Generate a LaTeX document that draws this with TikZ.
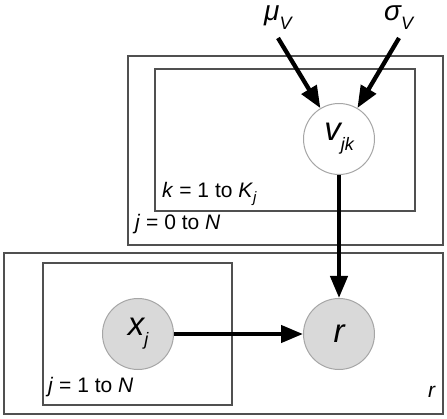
\documentclass[tikz,border=0pt]{standalone}
\usepackage{fontspec}
\setmainfont{Liberation Sans}
\usetikzlibrary{arrows.meta}
\definecolor{platec}{HTML}{505050}
\definecolor{nodefill}{HTML}{D9D9D9}
\definecolor{nodeline}{HTML}{A6A6A6}
\newcommand\lowsub[3]{\raisebox{-#2}{\fontsize{#3}{#3}\selectfont\itshape #1}}
\tikzset{
  plate/.style={draw=platec, line width=1.8pt},
  rv/.style={circle, draw=nodeline, line width=1pt, minimum size=71pt, inner sep=0pt, font=\fontsize{33}{33}\selectfont\itshape},
  obs/.style={rv, fill=nodefill},
  latent/.style={rv, fill=white},
  edge/.style={line width=4.3pt, -{Triangle[length=22pt,width=17pt]}},
  lbl/.style={anchor=base west, inner sep=0pt, font=\fontsize{21}{21}\selectfont},
  hyper/.style={anchor=base west, inner sep=0pt, font=\fontsize{28}{28}\selectfont\itshape}
}
\begin{document}
\begin{tikzpicture}[x=1pt,y=-1pt]
\useasboundingbox (0,0) rectangle (447,419);
\draw[plate] (128,56) rectangle (443,245);
\draw[plate] (155,69) rectangle (415,211);
\draw[plate] (4,253) rectangle (443,414);
\draw[plate] (43,263) rectangle (232,405);
\node[latent] (v) at (339,139) {v\lowsub{jk}{10pt}{18}};
\node[obs] (x) at (138,334) {x\lowsub{j}{10pt}{18}};
\node[obs] (r) at (339,334) {r};
\node[hyper] (mu) at (264,21) {μ\lowsub{V}{9pt}{18}};
\node[hyper] (sigma) at (384,21) {σ\lowsub{V}{9pt}{18}};
\coordinate (mus) at (278,38);
\coordinate (sis) at (399,38);
\draw[edge] (mus) -- (v);
\draw[edge] (sis) -- (v);
\draw[edge] (v) -- (r);
\draw[edge] (x) -- (r);
\node[lbl] (lk) at (162,198) {\textit{k} = 1 to \textit{K}\lowsub{j}{5pt}{15}};
\node[lbl] (lj0) at (135,230) {\textit{j} = 0 to \textit{N}};
\node[lbl] (lj1) at (48,392) {\textit{j} = 1 to \textit{N}};
\node[lbl] (lr) at (428,397) {\textit{r}};
\end{tikzpicture}
\end{document}
